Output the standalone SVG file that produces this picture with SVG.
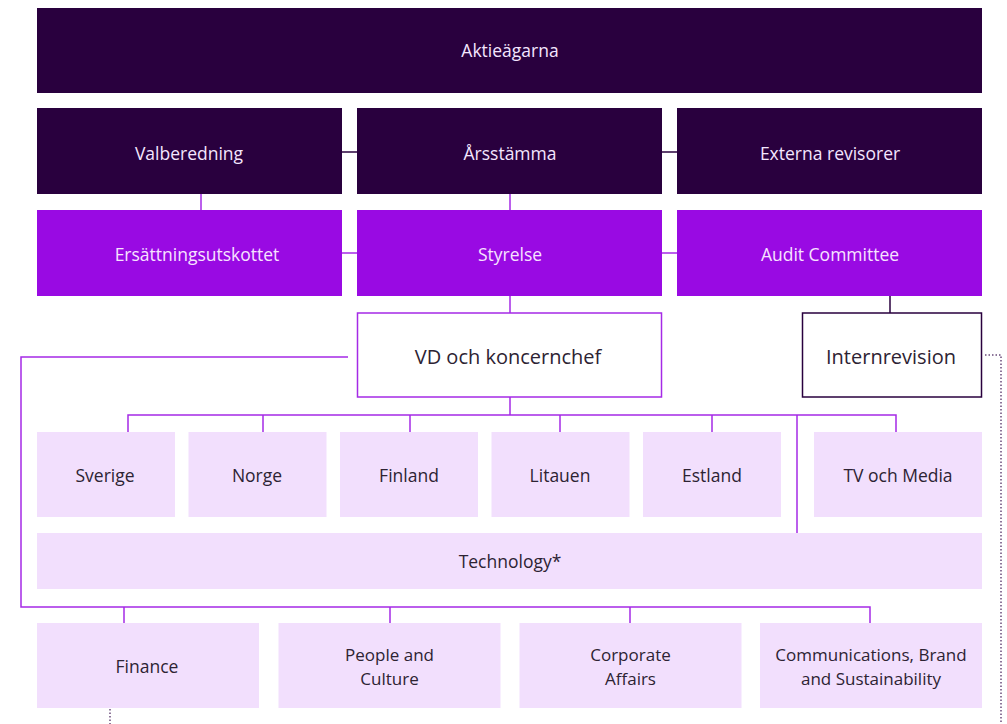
<svg xmlns="http://www.w3.org/2000/svg" width="1007" height="724" viewBox="0 0 1007 724">
<style>
.dk{fill:#29003E}
.pu{fill:#990AE3}
.lt{fill:#F2DFFD}
.wb{fill:#fff;stroke-width:1.5}
text{font-family:"Open Sans","Liberation Sans",sans-serif;text-anchor:middle;dominant-baseline:central}
.tw{fill:#F4E6FF;font-size:17.5px}
.tp{fill:#F7E3FF;font-size:17.5px}
.td{fill:#2d2333;font-size:17.5px}
.t2{fill:#2d2333;font-size:17px}
.tb{fill:#2d2333;font-size:20px}
.c{fill:none;stroke:#A52AE6;stroke-width:1.5}
.cd{fill:none;stroke:#29003E;stroke-width:1.5}
.dot{fill:none;stroke:#6a4a7a;stroke-width:1.5;stroke-dasharray:1.5 2}
</style>
<g id="connectors">
<line class="cd" x1="342" y1="152" x2="357" y2="152"/>
<line class="cd" x1="662" y1="152" x2="677" y2="152"/>
<line class="c" x1="201" y1="194" x2="201" y2="210"/>
<line class="c" x1="510" y1="194" x2="510" y2="210"/>
<line class="c" x1="342" y1="253" x2="357" y2="253"/>
<line class="c" x1="662" y1="253" x2="677" y2="253"/>
<line class="c" x1="510" y1="295" x2="510" y2="313"/>
<line class="cd" x1="890" y1="295" x2="890" y2="313"/>
<line class="c" x1="510" y1="397" x2="510" y2="415"/>
<polyline class="c" points="128,432 128,415 896,415 896,432"/>
<line class="c" x1="263" y1="415" x2="263" y2="432"/>
<line class="c" x1="410" y1="415" x2="410" y2="432"/>
<line class="c" x1="560" y1="415" x2="560" y2="432"/>
<line class="c" x1="712" y1="415" x2="712" y2="432"/>
<line class="c" x1="797" y1="415" x2="797" y2="533"/>
<polyline class="c" points="348,357 21,357 21,607 870,607 870,623"/>
<line class="c" x1="124" y1="607" x2="124" y2="623"/>
<line class="c" x1="390" y1="607" x2="390" y2="623"/>
<line class="c" x1="630" y1="607" x2="630" y2="623"/>
<polyline class="dot" points="985,355 1001,355 1001,724"/>
<line class="dot" x1="110" y1="709" x2="110" y2="724"/>
</g>
<g id="aktieagarna"><rect class="dk" x="37" y="8" width="945" height="85"/><text class="tw" x="510" y="50">Aktieägarna</text></g>
<g id="valberedning"><rect class="dk" x="37" y="108" width="305" height="86"/><text class="tw" x="189" y="153">Valberedning</text></g>
<g id="arsstamma"><rect class="dk" x="357" y="108" width="305" height="86"/><text class="tw" x="510" y="153">Årsstämma</text></g>
<g id="externa"><rect class="dk" x="677" y="108" width="305" height="86"/><text class="tw" x="830" y="153">Externa revisorer</text></g>
<g id="ersattning"><rect class="pu" x="37" y="210" width="305" height="86"/><text class="tp" x="197" y="254">Ersättningsutskottet</text></g>
<g id="styrelse"><rect class="pu" x="357" y="210" width="305" height="86"/><text class="tp" x="510" y="254">Styrelse</text></g>
<g id="audit"><rect class="pu" x="677" y="210" width="305" height="86"/><text class="tp" x="830" y="254">Audit Committee</text></g>
<g id="vd"><rect class="wb" x="357.5" y="313" width="304" height="84" stroke="#A52AE6"/><text class="tb" x="508" y="356">VD och koncernchef</text></g>
<g id="internrevision"><rect class="wb" x="802.5" y="313" width="179" height="84" stroke="#29003E"/><text class="tb" x="891" y="356">Internrevision</text></g>
<g id="sverige"><rect class="lt" x="37" y="432" width="138" height="85"/><text class="td" x="105" y="475">Sverige</text></g>
<g id="norge"><rect class="lt" x="188.5" y="432" width="138" height="85"/><text class="td" x="257" y="475">Norge</text></g>
<g id="finland"><rect class="lt" x="340" y="432" width="138" height="85"/><text class="td" x="409" y="475">Finland</text></g>
<g id="litauen"><rect class="lt" x="491.5" y="432" width="138" height="85"/><text class="td" x="560" y="475">Litauen</text></g>
<g id="estland"><rect class="lt" x="643" y="432" width="138" height="85"/><text class="td" x="712" y="475">Estland</text></g>
<g id="tv"><rect class="lt" x="814" y="432" width="168" height="85"/><text class="td" x="898" y="475">TV och Media</text></g>
<g id="technology"><rect class="lt" x="37" y="533" width="945" height="56"/><text class="td" x="510" y="561">Technology*</text></g>
<g id="finance"><rect class="lt" x="37" y="623" width="222" height="85"/><text class="td" x="147" y="666">Finance</text></g>
<g id="people"><rect class="lt" x="278.5" y="623" width="222" height="85"/><text class="t2" x="389.5" y="654.5">People and</text><text class="t2" x="389.5" y="678.5">Culture</text></g>
<g id="corporate"><rect class="lt" x="519.5" y="623" width="222" height="85"/><text class="t2" x="630.5" y="654.5">Corporate</text><text class="t2" x="630.5" y="678.5">Affairs</text></g>
<g id="communications"><rect class="lt" x="760" y="623" width="222" height="85"/><text class="t2" x="871" y="654.5">Communications, Brand</text><text class="t2" x="871" y="678.5">and Sustainability</text></g>
</svg>
